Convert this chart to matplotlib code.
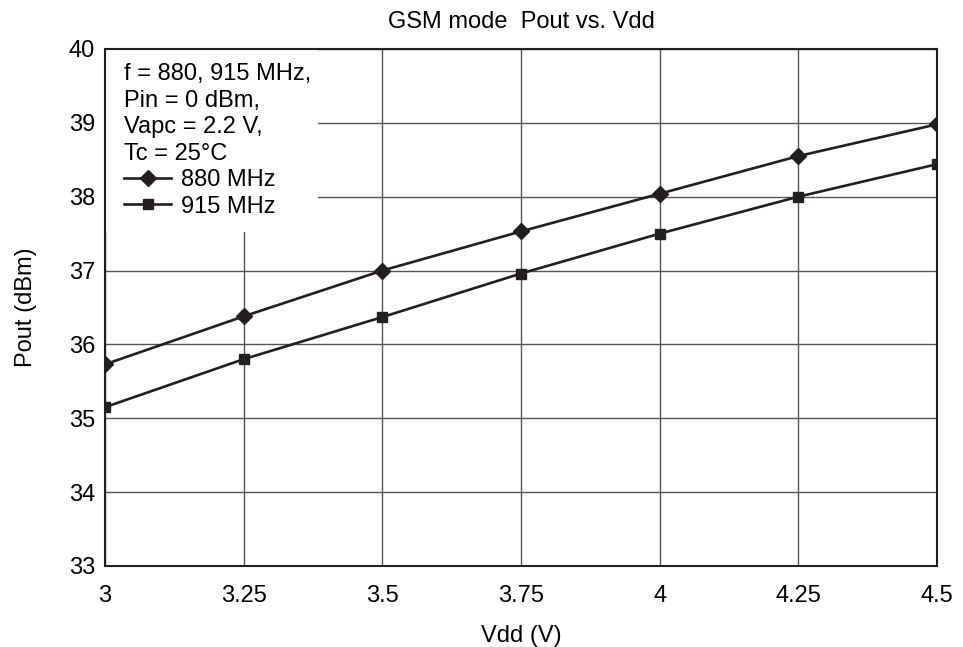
import matplotlib
matplotlib.use("Agg")
import matplotlib.pyplot as plt
from matplotlib.patches import Rectangle

plt.rcParams['font.family'] = ['Liberation Sans', 'DejaVu Sans']

vdd = [3.0, 3.25, 3.5, 3.75, 4.0, 4.25, 4.5]
pout_880 = [35.73, 36.38, 37.0, 37.53, 38.04, 38.55, 38.98]
pout_915 = [35.15, 35.8, 36.37, 36.96, 37.5, 38.0, 38.44]

x_ticks = [3, 3.25, 3.5, 3.75, 4, 4.25, 4.5]
x_labels = ["3", "3.25", "3.5", "3.75", "4", "4.25", "4.5"]
y_ticks = [33, 34, 35, 36, 37, 38, 39, 40]

fs = 17

fig = plt.figure(figsize=(9.63, 6.47), dpi=100)
ax = fig.add_axes([0.109, 0.1252, 0.864, 0.7991])

ax.plot(vdd, pout_880, color='#231f20', lw=1.9, marker='D', ms=8, label='880 MHz', zorder=3)
ax.plot(vdd, pout_915, color='#231f20', lw=1.9, marker='s', ms=6.5, label='915 MHz', zorder=3)

ax.set_xlim(3, 4.5)
ax.set_ylim(33, 40)
ax.set_xticks(x_ticks)
ax.set_xticklabels(x_labels)
ax.set_yticks(y_ticks)
ax.tick_params(length=0, labelsize=fs)
ax.tick_params(axis='x', pad=14)
ax.tick_params(axis='y', pad=7)
ax.grid(True, color='#555555', lw=1.0)
ax.set_axisbelow(True)
for s in ax.spines.values():
    s.set_linewidth(1.5)
    s.set_color('#231f20')

# white box behind the legend text, covers the grid
ax.add_patch(Rectangle((0, 0.646), 0.256, 0.354, transform=ax.transAxes,
                       facecolor='white', edgecolor='none', zorder=1))

ax.set_xlabel('Vdd (V)', fontsize=fs, labelpad=13)
ax.set_ylabel('Pout (dBm)', fontsize=fs, labelpad=23)
ax.set_title('GSM mode  Pout vs. Vdd', fontsize=fs, pad=15)

leg = ax.legend(title='f = 880, 915 MHz,\nPin = 0 dBm,\nVapc = 2.2 V,\nTc = 25°C',
                loc='upper left', bbox_to_anchor=(0.0228, 0.973),
                fontsize=fs, title_fontsize=fs, frameon=False,
                handlelength=2.0, handletextpad=0.4, labelspacing=0.2,
                borderaxespad=0, borderpad=0, alignment='left')
leg.get_title().set_linespacing(1.27)
leg._legend_box.sep = 3

fig.savefig('out.png', dpi=100)
